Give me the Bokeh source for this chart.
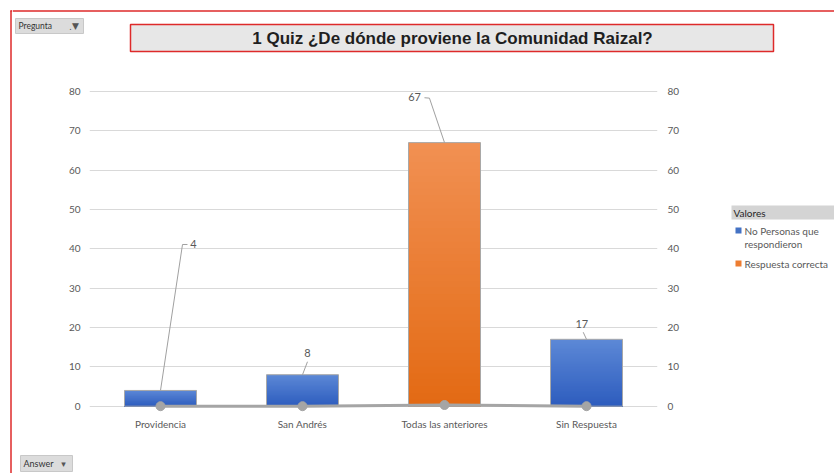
from bokeh.plotting import figure
from bokeh.layouts import column, row
from bokeh.models import FactorRange, Range1d, LinearAxis, FixedTicker, ColumnDataSource
from bokeh.core.properties import value
from bokeh.embed import file_html
from bokeh.resources import INLINE

# ---------------- data ----------------
categories = ["Providencia", "San Andrés", "Todas las anteriores", "Sin Respuesta"]
personas = [4, 8, 67, 17]
es_correcta = [False, False, True, False]
linea = [0, 0, 0.3, 0]
y_ticks = [0, 10, 20, 30, 40, 50, 60, 70, 80]
series_names = [["No Personas que", "respondieron"], ["Respuesta correcta"]]
chart_title = "1 Quiz ¿De dónde proviene la Comunidad Raizal?"
legend_title = "Valores"
filter_labels = ["Pregunta", "Answer"]

# ---------------- layout constants (pixels) ----------------
W, H = 834, 473
FONT = "Lato"
GRAY_TXT = "#595959"
RED = "#DE2A2A"
EDGE_W = 12                 # strip holding the red left rule
T_H, M_H = 76, 357          # top strip, main chart band
R_W = 147                   # legend strip
M_W = W - EDGE_W - R_W
B_H = H - T_H - M_H
FRAME_TOP, FRAME_BOT = T_H, T_H + 340


def strip(x0, y0, w, h, ytop=None, ybot=None, border_bottom=0):
    yt = y0 if ytop is None else ytop
    yb = y0 + h if ybot is None else ybot
    f = figure(width=w, height=h, x_range=Range1d(x0, x0 + w), y_range=Range1d(yb, yt),
               x_axis_type=None, y_axis_type=None, output_backend="svg", toolbar_location=None,
               min_border=0, min_border_left=0, min_border_right=0, min_border_top=0,
               min_border_bottom=border_bottom)
    f.outline_line_color = None
    f.background_fill_color = "white"
    f.border_fill_color = "white"
    return f


def txt(f, x, y, t, size="9px", color="#333333", font=FONT, style="normal", align="left"):
    f.text(x=[x], y=[y], text=[t], text_font=value(font), text_font_size=size,
           text_color=color, text_font_style=style, text_align=align, text_baseline="middle")


# ---------------- main chart ----------------
p = figure(width=M_W, height=M_H, x_range=FactorRange(factors=categories, range_padding=0),
           y_range=Range1d(-2.62, 83.8), output_backend="svg", toolbar_location=None,
           min_border_left=89 - EDGE_W, min_border_right=30, min_border_top=0,
           min_border_bottom=M_H - 340)
p.outline_line_color = None
p.background_fill_color = "white"
p.border_fill_color = "white"

ticker = FixedTicker(ticks=y_ticks)
p.yaxis.ticker = ticker
p.ygrid.ticker = ticker
p.ygrid.grid_line_color = "#D9D9D9"
p.xgrid.visible = False


def style_axis(ax, standoff):
    ax.axis_line_color = None
    ax.major_tick_line_color = None
    ax.minor_tick_line_color = None
    ax.major_tick_out = 0
    ax.major_tick_in = 0
    ax.major_label_standoff = standoff
    ax.major_label_text_font = FONT
    ax.major_label_text_font_size = "10px"
    ax.major_label_text_color = GRAY_TXT


style_axis(p.yaxis[0], 9)
right = LinearAxis(ticker=ticker)
style_axis(right, 10)
p.add_layout(right, "right")
style_axis(p.xaxis[0], 1)

BAR_W = 0.507
BLUE_TOP, BLUE_BOT = (92, 136, 214), (46, 93, 190)
ORNG_TOP, ORNG_BOT = (241, 144, 82), (227, 106, 20)
BLUE_MID, ORNG_MID = "#4472C4", "#ED7D31"

# vertical gradient bars
N = 40
gx, gtop, gcol = [], [], []
for i, v in enumerate(personas):
    c0, c1 = (ORNG_TOP, ORNG_BOT) if es_correcta[i] else (BLUE_TOP, BLUE_BOT)
    for k in range(N):
        t = k / (N - 1)
        col = tuple(int(round(c0[j] + (c1[j] - c0[j]) * t)) for j in range(3))
        gx.append(categories[i])
        gtop.append(v * (N - k) / N)
        gcol.append("#%02x%02x%02x" % col)
p.vbar(x="x", top="top", bottom=0, width=BAR_W, fill_color="c", line_color=None,
       source=ColumnDataSource(dict(x=gx, top=gtop, c=gcol)))
p.vbar(x=categories, top=personas, bottom=0, width=BAR_W, fill_color=None,
       line_color="#A8A8A8", line_width=1)

# gray line series at the base
p.line(x=categories, y=linea, line_color="#A5A5A5", line_width=3)
p.scatter(x=categories, y=linea, size=9, fill_color="#A5A5A5", line_color="#A5A5A5")

# data labels with leader lines (offsets in category widths)
lbl_dx = [0.232, 0.035, -0.211, -0.033]
lbl_y = [41.1, 13.6, 78.5, 21.0]
leaders = [[(0.0, None), (0.155, 41.1), (0.19, 41.1)],
           [(0.0, None), (0.035, 11.3)],
           [(0.0, None), (-0.106, 78.3), (-0.141, 78.4)],
           [(0.0, None), (-0.023, 18.8)]]
xs, ys = [], []
for i, pts in enumerate(leaders):
    xs.append([i + 0.5 + dx for dx, _ in pts])
    ys.append([personas[i] if yy is None else yy for _, yy in pts])
p.multi_line(xs=xs, ys=ys, line_color="#A0A0A0", line_width=1)
p.text(x=[i + 0.5 + d for i, d in enumerate(lbl_dx)], y=lbl_y, text=[str(v) for v in personas],
       text_align="center", text_baseline="middle", text_font=value(FONT),
       text_font_size="11px", text_color=GRAY_TXT)

# ---------------- surrounding strips ----------------
edge = strip(0, 0, EDGE_W, H)
edge.segment(x0=[10.5, 10], y0=[10, 10.5], x1=[10.5, EDGE_W], y1=[H, 10.5], line_color=RED,
             line_width=1.5)

top = strip(EDGE_W, 0, W - EDGE_W, T_H)
top.segment(x0=[EDGE_W], y0=[10.5], x1=[W], y1=[10.5], line_color=RED, line_width=1.5)
top.quad(left=[130], right=[773], top=[24], bottom=[51], fill_color="#E7E7E7", line_color=RED,
         line_width=1.5)
txt(top, 452, 37.5, chart_title, size="17px", color="#1F1F1F", font="Liberation Sans",
    style="bold", align="center")
top.quad(left=[15], right=[83], top=[18], bottom=[33], fill_color="#DCDCDC", line_color="#C8C8C8")
txt(top, 18, 25.5, filter_labels[0], size="8.5px")
txt(top, 70, 25.5, ".", size="9px", color="#555555", font="DejaVu Sans", align="center")
txt(top, 75, 25.5, "▼", size="9px", color="#555555", font="DejaVu Sans", align="center")

# legend strip, frame aligned with the chart frame
rgt = strip(EDGE_W + M_W, T_H, R_W, M_H, ytop=FRAME_TOP, ybot=FRAME_BOT,
            border_bottom=M_H - 340)
rgt.quad(left=[731], right=[W], top=[205], bottom=[219], fill_color="#D4D4D4", line_color=None)
txt(rgt, 733, 212, legend_title, size="10px", color="#262626")
rgt.quad(left=[735, 735], right=[741, 741], top=[227, 260], bottom=[233, 266],
         fill_color=[BLUE_MID, ORNG_MID], line_color=None)
txt(rgt, 744, 230, series_names[0][0], size="10px", color=GRAY_TXT)
txt(rgt, 744, 243, series_names[0][1], size="10px", color=GRAY_TXT)
txt(rgt, 744, 263, series_names[1][0], size="10px", color=GRAY_TXT)

bot = strip(EDGE_W, T_H + M_H, W - EDGE_W, B_H)
bot.quad(left=[20], right=[72], top=[455], bottom=[471], fill_color="#DCDCDC", line_color="#C8C8C8")
txt(bot, 23, 463, filter_labels[1], size="9px")
txt(bot, 63, 463, "▾", size="9px", color="#555555", font="DejaVu Sans", align="center")

layout = row(edge, column(top, row(p, rgt), bot))
open("out.html", "w").write(file_html(layout, INLINE))
